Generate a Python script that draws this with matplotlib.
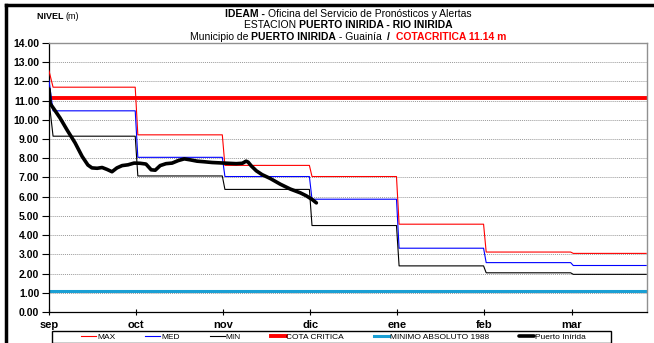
import numpy as np
import matplotlib
matplotlib.use('Agg')
import matplotlib.pyplot as plt
from matplotlib.lines import Line2D
from matplotlib.patches import Rectangle

plt.rcParams['font.family'] = ['Liberation Sans', 'DejaVu Sans']

# Meses del eje x (inicio de cada mes en días desde el 1 de septiembre)
meses = ['sep', 'oct', 'nov', 'dic', 'ene', 'feb', 'mar']
inicio_mes = [0, 30, 60, 90, 120, 150, 180]
fin_eje = 206

# Valores mensuales de referencia (m)
max_inicio = 12.55
max_mes = [11.70, 9.22, 7.63, 7.05, 4.57, 3.12, 3.05]
med_inicio = 12.05
med_mes = [10.47, 8.05, 7.05, 5.87, 3.32, 2.57, 2.42]
min_inicio = 11.0
min_mes = [9.15, 7.08, 6.38, 4.50, 2.40, 2.04, 1.96]

cota_critica = 11.14
minimo_1988 = 1.08

# Niveles observados estación Puerto Inírida
dias_obs = [0, 0.4, 2, 3.8, 6.2, 9, 11.4, 13.4, 14.8, 16.6, 18.3, 20, 21.7,
            23.4, 25.2, 27.2, 29.3, 31.4, 33.4, 35.2, 36.6, 38.3, 40.3, 42.4,
            44.5, 46.6, 48.6, 51, 53.4, 56.2, 59, 61.7, 64.5, 66.6, 67.9, 68.6,
            69.7, 71.4, 73.4, 76.2, 79.7, 83.1, 86.6, 88.6, 90.7, 92.1]
nivel_obs = [11.6, 10.85, 10.5, 10.1, 9.48, 8.8, 8.1, 7.65, 7.5, 7.48, 7.52,
             7.42, 7.3, 7.5, 7.62, 7.66, 7.75, 7.74, 7.7, 7.4, 7.38, 7.62, 7.72,
             7.75, 7.88, 7.97, 7.92, 7.85, 7.82, 7.78, 7.76, 7.74, 7.72, 7.74,
             7.85, 7.8, 7.6, 7.35, 7.15, 6.95, 6.65, 6.4, 6.2, 6.05, 5.85, 5.68]


def escalones(v0, valores):
    # curva escalonada mensual con una pequeña pendiente en cada cambio
    bordes = inicio_mes[1:] + [fin_eje]
    xs, ys = [0], [v0]
    for i, v in enumerate(valores):
        ini = inicio_mes[i] + (1.4 if i == 0 else 0.6)
        xs += [ini, bordes[i] - 0.3]
        ys += [v, v]
    return xs, ys


W, H = 654, 343
fig = plt.figure(figsize=(W / 100, H / 100), dpi=100)
ax = fig.add_axes([49 / W, 1 - 312 / H, (647 - 49) / W, (312 - 43) / H])

x, y = escalones(max_inicio, max_mes)
ax.plot(x, y, color='#ff0000', lw=0.8, label='MAX', zorder=3)
x, y = escalones(med_inicio, med_mes)
ax.plot(x, y, color='#0000ff', lw=0.8, label='MED', zorder=3)
x, y = escalones(min_inicio, min_mes)
ax.plot(x, y, color='black', lw=0.8, label='MIN', zorder=3)
ax.axhline(cota_critica, color='#ff0000', lw=2.8, label='COTA CRITICA', zorder=2)
ax.axhline(minimo_1988, color='#1a9fd4', lw=2.2, label='MINIMO ABSOLUTO 1988', zorder=2)
ax.plot(dias_obs, nivel_obs, color='black', lw=2.6, label='Puerto Inírida',
        solid_capstyle='round', zorder=4)

ax.set_xlim(0, fin_eje)
ax.set_ylim(0, 14)
ax.set_yticks(np.arange(0, 15, 1))
ax.set_yticklabels(['%.2f' % v for v in np.arange(0, 15, 1)],
                   fontsize=7.5, fontweight='bold')
ax.set_xticks(inicio_mes)
ax.set_xticklabels(meses, fontsize=8, fontweight='bold')
ax.tick_params(axis='y', direction='out', length=5, width=0.8, pad=2)
ax.tick_params(axis='x', direction='inout', length=5, width=0.8, pad=3)
ax.yaxis.grid(True, linestyle=(0, (1, 1)), color='#9a9a9a', lw=0.7)
ax.set_axisbelow(True)
for lado in ['top', 'right']:
    ax.spines[lado].set_color('#909090')
    ax.spines[lado].set_linewidth(1.0)
for lado in ['left', 'bottom']:
    ax.spines[lado].set_color('black')
    ax.spines[lado].set_linewidth(0.9)

# leyenda en una fila con recuadro
leg = fig.legend(loc='center', bbox_to_anchor=(333.5 / W, 1 - 337 / H), ncol=6,
                 frameon=False, fontsize=6, handlelength=1.8,
                 handletextpad=0.1, columnspacing=3.6)
fig.patches.append(Rectangle((52 / W, 1 - 343 / H), (611 - 52) / W, 12 / H,
                             transform=fig.transFigure, fill=False,
                             edgecolor='black', lw=1.0))

# marco del gráfico
fig.add_artist(Line2D([6 / W, 1], [1 - 5 / H, 1 - 5 / H], color='black', lw=2.5))
fig.add_artist(Line2D([6 / W, 6 / W], [0, 1 - 5 / H], color='black', lw=2.5))

# títulos con tramos en negrita y color
renderer = fig.canvas.get_renderer()
fam = ['Liberation Sans Narrow', 'Liberation Sans']


def linea_titulo(ypix, tramos, size=7.5, cx=348):
    textos = []
    for s, peso, color in tramos:
        t = fig.text(0, 1 - ypix / H, s, fontsize=size, fontweight=peso,
                     color=color, family=fam, va='baseline', ha='left')
        textos.append(t)
    anchos = [t.get_window_extent(renderer).width for t in textos]
    x0 = cx - sum(anchos) / 2
    for t, a in zip(textos, anchos):
        t.set_x(x0 / W)
        x0 += a


linea_titulo(17, [('IDEAM - ', 'bold', 'black'),
                  ('Oficina del Servicio de Pronósticos y Alertas', 'normal', 'black')])
linea_titulo(28.5, [('ESTACION ', 'normal', 'black'),
                    ('PUERTO INIRIDA - RIO INIRIDA', 'bold', 'black')])
linea_titulo(40, [('Municipio de ', 'normal', 'black'),
                  ('PUERTO INIRIDA', 'bold', 'black'),
                  (' - Guainía  ', 'normal', 'black'),
                  ('/  ', 'bold', 'black'),
                  ('COTACRITICA 11.14 m', 'bold', '#ff0000')])

t1 = fig.text(37 / W, 1 - 19 / H, 'NIVEL ', fontsize=6.5, fontweight='bold',
              family=fam, va='baseline')
w1 = t1.get_window_extent(renderer).width
fig.text((37 + w1) / W, 1 - 19 / H, '(m)', fontsize=6.5, family=fam, va='baseline')

fig.savefig('out.png', dpi=100)
